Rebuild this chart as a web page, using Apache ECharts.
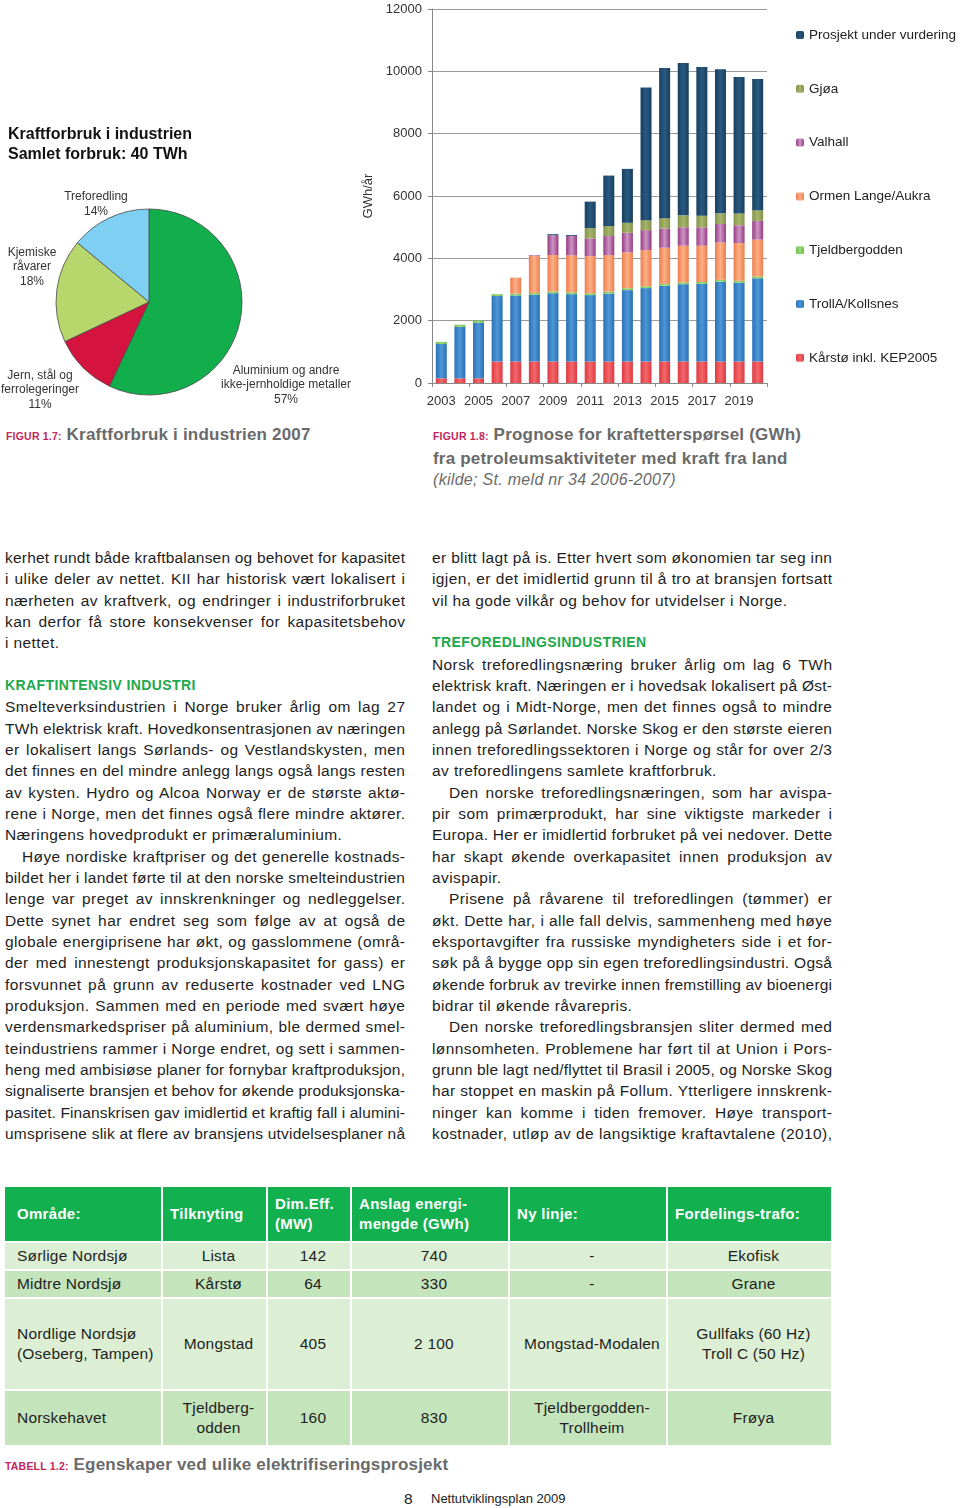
<!DOCTYPE html>
<html><head><meta charset="utf-8">
<script src="https://cdn.jsdelivr.net/npm/echarts@6/dist/echarts.min.js"></script>
<style>
body{margin:0;background:#fff;font-family:"Liberation Sans",Arial,Helvetica,sans-serif;color:#1e1e1e;}
#page{position:relative;width:960px;height:1508px;overflow:hidden;background:#fff;}
#chart{position:absolute;left:0;top:0;width:960px;height:420px;}
.cap{position:absolute;font-weight:bold;color:#6a6a6a;font-size:17px;letter-spacing:0.2px;line-height:21.5px;white-space:nowrap;}
.cap .fig{color:#c2285c;font-size:10.5px;letter-spacing:0.2px;}
.cap .src{font-weight:normal;font-style:italic;font-size:16px;letter-spacing:0.3px;}
.col{position:absolute;top:547px;width:400px;font-size:15.5px;letter-spacing:0.4px;}
.ln{height:21.33px;line-height:21.33px;white-space:nowrap;overflow:visible;}
.ln span{white-space:nowrap;}
.h{color:#22a84a;font-weight:bold;font-size:14px;letter-spacing:0.4px;}
.ind{padding-left:17px;}
#tbl{position:absolute;left:3px;top:1185px;border-collapse:separate;border-spacing:2px;table-layout:fixed;width:830px;font-size:15.5px;letter-spacing:0.2px;}
#tbl td{padding:0 0 0 8px;line-height:20px;text-align:center;color:#1e1e1e;}
#tbl td.first{text-align:left;padding-left:12px;}
#tbl tr.hd td{background:#12b04f;color:#fff;font-weight:bold;text-align:left;padding-left:7px;letter-spacing:0.3px;font-size:15px;}
#tbl tr.hd td.first{padding-left:12px;}
#tbl tr.lt td{background:#dcefd5;}
#tbl tr.md td{background:#c4e4bb;}
.foot{position:absolute;top:1490px;white-space:nowrap;color:#222;}
</style></head>
<body><div id="page">
<div id="chart"></div>
<div class="cap" style="left:6px;top:424px;"><span class="fig">FIGUR 1.7:</span> Kraftforbruk i industrien 2007</div>
<div class="cap" style="left:433px;top:424px;"><span class="fig">FIGUR 1.8:</span> Prognose for kraftetterspørsel (GWh)<br>fra petroleumsaktiviteter med kraft fra land<br><span class="src">(kilde; St. meld nr 34 2006-2007)</span></div>
<div class="col" id="colL" style="left:5px;"></div>
<div class="col" id="colR" style="left:432px;"></div>
<table id="tbl"><colgroup><col style="width:156px"><col style="width:103px"><col style="width:82px"><col style="width:156px"><col style="width:156px"><col style="width:163px"></colgroup><tbody id="tbody"></tbody></table>
<div class="cap" style="left:5px;top:1454px;"><span class="fig">TABELL 1.2:</span> Egenskaper ved ulike elektrifiseringsprosjekt</div>
<div class="foot" style="left:404px;font-size:15.5px;">8</div>
<div class="foot" style="left:431px;font-size:13px;top:1491px;">Nettutviklingsplan 2009</div>
</div>
<script>
// ---------- Figure 1.8 data (GWh/år) ----------
const years = ['2003','2004','2005','2006','2007','2008','2009','2010','2011','2012','2013','2014','2015','2016','2017','2018','2019','2020'];
const karsto   = [150,150,150,690,690,690,690,690,690,690,690,690,690,690,690,690,690,690];
const trollA   = [1100,1650,1780,2100,2120,2140,2190,2160,2130,2180,2290,2355,2430,2480,2490,2560,2530,2670];
const tjeld    = [70,70,70,60,60,60,60,60,60,60,60,60,60,60,60,60,60,60];
const ormen    = [0,0,0,0,510,1180,1165,1185,1190,1175,1150,1160,1160,1175,1165,1200,1210,1180];
const valhall  = [0,0,0,0,0,30,640,620,570,610,630,640,620,590,590,590,570,600];
const gjoa     = [0,0,0,0,0,0,0,0,330,320,320,320,330,385,375,345,380,345];
const prosjekt = [0,0,0,0,0,0,30,30,850,1620,1730,4260,4815,4890,4770,4620,4380,4210];
const yTicks = {min:0, max:12000, interval:2000};

// ---------- Figure 1.7 data (%) ----------
const pieNames  = ['Aluminium og andre\nikke-jernholdige metaller','Jern, stål og\nferrolegeringer','Kjemiske\nråvarer','Treforedling'];
const pieValues = [57, 11, 18, 14];

// ---------- Table 1.2 ----------
const tblHead = ['Område:','Tilknyting','Dim.Eff.<br>(MW)','Anslag energi-<br>mengde (GWh)','Ny linje:','Fordelings-trafo:'];
const tblRows = [
  ['Sørlige Nordsjø','Lista','142','740','-','Ekofisk'],
  ['Midtre Nordsjø','Kårstø','64','330','-','Grane'],
  ['Nordlige Nordsjø<br>(Oseberg, Tampen)','Mongstad','405','2 100','Mongstad-Modalen','Gullfaks (60 Hz)<br>Troll C (50 Hz)'],
  ['Norskehavet','Tjeldberg-<br>odden','160','830','Tjeldbergodden-<br>Trollheim','Frøya']
];

// ---------- Body text ----------
const leftLines = [
 ['j','kerhet rundt både kraftbalansen og behovet for kapasitet'],
 ['j','i ulike deler av nettet. KII har historisk vært lokalisert i'],
 ['j','nærheten av kraftverk, og endringer i industriforbruket'],
 ['j','kan derfor få store konsekvenser for kapasitetsbehov'],
 ['l','i nettet.'],
 ['b',''],
 ['h','KRAFTINTENSIV INDUSTRI'],
 ['j','Smelteverksindustrien i Norge bruker årlig om lag 27'],
 ['j','TWh elektrisk kraft. Hovedkonsentrasjonen av næringen'],
 ['j','er lokalisert langs Sørlands- og Vestlandskysten, men'],
 ['j','det finnes en del mindre anlegg langs også langs resten'],
 ['j','av kysten. Hydro og Alcoa Norway er de største aktø-'],
 ['j','rene i Norge, men det finnes også flere mindre aktører.'],
 ['l','Næringens hovedprodukt er primæraluminium.'],
 ['i','Høye nordiske kraftpriser og det generelle kostnads-'],
 ['j','bildet her i landet førte til at den norske smelteindustrien'],
 ['j','lenge var preget av innskrenkninger og nedleggelser.'],
 ['j','Dette synet har endret seg som følge av at også de'],
 ['j','globale energiprisene har økt, og gasslommene (områ-'],
 ['j','der med innestengt produksjonskapasitet for gass) er'],
 ['j','forsvunnet på grunn av reduserte kostnader ved LNG'],
 ['j','produksjon. Sammen med en periode med svært høye'],
 ['j','verdensmarkedspriser på aluminium, ble dermed smel-'],
 ['j','teindustriens rammer i Norge endret, og sett i sammen-'],
 ['j','heng med ambisiøse planer for fornybar kraftproduksjon,'],
 ['j','signaliserte bransjen et behov for økende produksjonska-'],
 ['j','pasitet. Finanskrisen gav imidlertid et kraftig fall i alumini-'],
 ['j','umsprisene slik at flere av bransjens utvidelsesplaner nå']
];
const rightLines = [
 ['j','er blitt lagt på is. Etter hvert som økonomien tar seg inn'],
 ['j','igjen, er det imidlertid grunn til å tro at bransjen fortsatt'],
 ['l','vil ha gode vilkår og behov for utvidelser i Norge.'],
 ['b',''],
 ['h','TREFOREDLINGSINDUSTRIEN'],
 ['j','Norsk treforedlingsnæring bruker årlig om lag 6 TWh'],
 ['j','elektrisk kraft. Næringen er i hovedsak lokalisert på Øst-'],
 ['j','landet og i Midt-Norge, men det finnes også to mindre'],
 ['j','anlegg på Sørlandet. Norske Skog er den største eieren'],
 ['j','innen treforedlingssektoren i Norge og står for over 2/3'],
 ['l','av treforedlingens samlete kraftforbruk.'],
 ['i','Den norske treforedlingsnæringen, som har avispa-'],
 ['j','pir som primærprodukt, har sine viktigste markeder i'],
 ['j','Europa. Her er imidlertid forbruket på vei nedover. Dette'],
 ['j','har skapt økende overkapasitet innen produksjon av'],
 ['l','avispapir.'],
 ['i','Prisene på råvarene til treforedlingen (tømmer) er'],
 ['j','økt. Dette har, i alle fall delvis, sammenheng med høye'],
 ['j','eksportavgifter fra russiske myndigheters side i et for-'],
 ['j','søk på å bygge opp sin egen treforedlingsindustri. Også'],
 ['j','økende forbruk av trevirke innen fremstilling av bioenergi'],
 ['l','bidrar til økende råvarepris.'],
 ['i','Den norske treforedlingsbransjen sliter dermed med'],
 ['j','lønnsomheten. Problemene har ført til at Union i Pors-'],
 ['j','grunn ble lagt ned/flyttet til Brasil i 2005, og Norske Skog'],
 ['j','har stoppet en maskin på Follum. Ytterligere innskrenk-'],
 ['j','ninger kan komme i tiden fremover. Høye transport-'],
 ['j','kostnader, utløp av de langsiktige kraftavtalene (2010),']
];

const BASE_LS = 0.4;
function buildCol(id, lines){
  const col = document.getElementById(id);
  lines.forEach(([t, s]) => {
    const d = document.createElement('div');
    d.className = 'ln';
    const sp = document.createElement('span');
    sp.textContent = s;
    if (t === 'h') d.classList.add('h');
    if (t === 'i') d.classList.add('ind');
    d.appendChild(sp);
    col.appendChild(d);
    if (t === 'j' || t === 'i') {
      const target = 400 - (t === 'i' ? 17 : 0);
      const w = sp.getBoundingClientRect().width - BASE_LS;
      const n = (s.match(/ /g) || []).length;
      const extra = target - w;
      if (extra < 0) {
        sp.style.letterSpacing = (BASE_LS + extra / (s.length - 1)) + 'px';
      } else if (n > 0) {
        sp.style.wordSpacing = (extra / n) + 'px';
      }
    }
  });
}
buildCol('colL', leftLines);
buildCol('colR', rightLines);

(function buildTable(){
  const tb = document.getElementById('tbody');
  const heights = [26, 26, 90, 54];
  const cls = ['lt','md','lt','md'];
  let h = '<tr class="hd">' + tblHead.map((c,i)=>'<td style="height:54px"' + (i===0?' class="first"':'') + '>' + c + '</td>').join('') + '</tr>';
  tblRows.forEach((r, k) => {
    h += '<tr class="' + cls[k] + '">' + r.map((c,i)=>'<td style="height:' + heights[k] + 'px"' + (i===0?' class="first"':'') + '>' + c + '</td>').join('') + '</tr>';
  });
  tb.innerHTML = h;
})();

// ---------- Charts ----------
const FONT = '"Liberation Sans", Arial, Helvetica, sans-serif';
function grad(edge, mid){
  return new echarts.graphic.LinearGradient(0,0,1,0,[{offset:0,color:edge},{offset:0.5,color:mid},{offset:1,color:edge}]);
}
const seriesDefs = [
  {name:'Kårstø inkl. KEP2005', data:karsto,   c:grad('#dc3a40','#f4676b')},
  {name:'TrollA/Kollsnes',      data:trollA,   c:grad('#2c70b5','#4d97d8')},
  {name:'Tjeldbergodden',       data:tjeld,    c:grad('#6fbf4a','#9ad97a')},
  {name:'Ormen Lange/Aukra',    data:ormen,    c:grad('#ee7d4c','#fbb086')},
  {name:'Valhall',              data:valhall,  c:grad('#963c82','#cc95c4')},
  {name:'Gjøa',                 data:gjoa,     c:grad('#84944a','#a8b46c')},
  {name:'Prosjekt under vurdering', data:prosjekt, c:grad('#173f5f','#2a5a80')}
];
const pieColors = ['#12ae4b','#d5133f','#b7d66c','#7ecff2'];
const pieLabelPos = [[286,385],[40,390],[32,267],[96,204]];

const chart = echarts.init(document.getElementById('chart'));
chart.setOption({
  animation:false,
  textStyle:{fontFamily:FONT},
  title:{
    text:'Kraftforbruk i industrien\nSamlet forbruk: 40 TWh',
    left:3, top:120,
    textStyle:{fontSize:16, fontWeight:'bold', color:'#111', lineHeight:20, fontFamily:FONT}
  },
  legend:{
    orient:'vertical', left:791, top:23,
    itemWidth:8, itemHeight:8, itemGap:39.8,
    data:seriesDefs.map(s=>s.name).reverse(),
    textStyle:{fontSize:13.5, color:'#222', fontFamily:FONT}
  },
  grid:{left:432, right:193, top:9, bottom:37},
  xAxis:{
    type:'category', data:years,
    axisLine:{lineStyle:{color:'#888'}},
    axisTick:{show:true, length:4, lineStyle:{color:'#888'}},
    axisLabel:{interval:1, fontSize:13, color:'#333', margin:12}
  },
  yAxis:{
    type:'value', min:yTicks.min, max:yTicks.max, interval:yTicks.interval,
    name:'GWh/år', nameLocation:'middle', nameGap:57,
    nameTextStyle:{fontSize:13, color:'#333'},
    axisLine:{show:true, lineStyle:{color:'#888'}},
    axisTick:{show:true, length:4, lineStyle:{color:'#888'}},
    splitLine:{lineStyle:{color:'#9a9a9a'}},
    axisLabel:{fontSize:13, color:'#333', margin:10, formatter:function(v){return String(v);}}
  },
  series:[
    ...seriesDefs.map(s=>({
      name:s.name, type:'bar', stack:'total', data:s.data, barWidth:11,
      itemStyle:{color:s.c}
    })),
    {
      type:'pie', center:[149,302], radius:93, startAngle:90, clockwise:true,
      data:pieNames.map((n,i)=>({name:n, value:pieValues[i], itemStyle:{color:pieColors[i]}})),
      itemStyle:{borderColor:'#4a4a4a', borderWidth:0.8},
      label:{show:true, formatter:'{b}\n{d}%', fontSize:12, lineHeight:14.5, color:'#333', align:'center', overflow:'none'},
      labelLine:{show:false},
      labelLayout:function(p){ const q = pieLabelPos[p.dataIndex]; return {x:q[0], y:q[1], align:'center', verticalAlign:'middle', width:200}; },
      emphasis:{disabled:true}
    }
  ]
});
</script>
</body></html>
